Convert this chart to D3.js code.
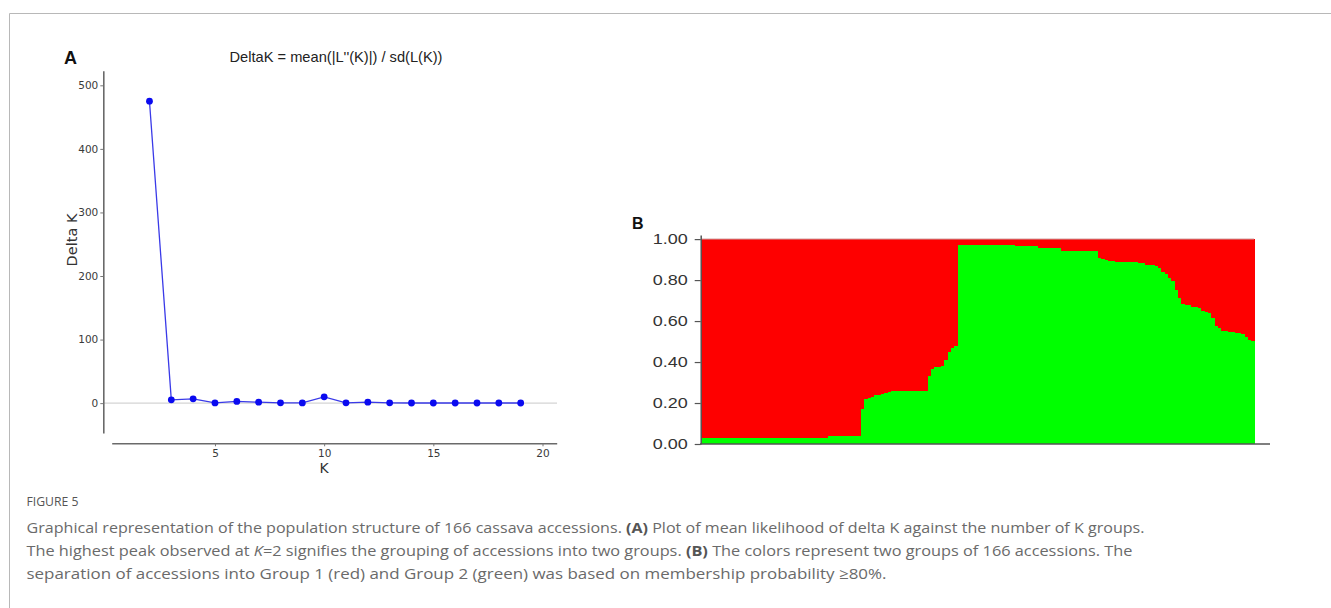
<!DOCTYPE html>
<html>
<head>
<meta charset="utf-8">
<script src="https://cdn.jsdelivr.net/npm/d3@7"></script>
<style>
  html, body { margin: 0; padding: 0; background: #fff; }
  svg { display: block; }
</style>
</head>
<body>
<svg id="fig" width="1331" height="608"></svg>
<script>
// Panel A: Evanno delta K for each number of clusters K
const kValues = [2, 3, 4, 5, 6, 7, 8, 9, 10, 11, 12, 13, 14, 15, 16, 17, 18, 19];
const deltaK  = [475, 5.2, 6.8, 0.3, 2.6, 1.5, 0.4, 0.3, 9.9, 0.5, 1.5, 0.4, 0.2, 0.2, 0.2, 0.2, 0.2, 0.2];
const deltaTicks = [0, 100, 200, 300, 400, 500];
const kTicks = [5, 10, 15, 20];

// Panel B: membership probability of Group 2 (green) for the 166 sorted accessions
const group2Membership = [
  0.030, 0.030, 0.030, 0.030, 0.030, 0.030, 0.030, 0.030, 0.030, 0.030,
  0.030, 0.030, 0.030, 0.030, 0.030, 0.030, 0.030, 0.030, 0.030, 0.030,
  0.030, 0.030, 0.030, 0.030, 0.030, 0.030, 0.030, 0.030, 0.030, 0.030,
  0.030, 0.030, 0.030, 0.030, 0.030, 0.030, 0.030, 0.030,
  0.040, 0.040, 0.040, 0.040, 0.040, 0.040, 0.040, 0.040, 0.040, 0.040,
  0.172,
  0.222, 0.225, 0.228,
  0.238, 0.240, 0.245, 0.250, 0.255,
  0.258, 0.258, 0.258, 0.258, 0.258, 0.258, 0.258, 0.258, 0.258, 0.258, 0.258,
  0.330,
  0.365, 0.375, 0.378, 0.380,
  0.410,
  0.448,
  0.470, 0.478,
  0.972, 0.972, 0.972, 0.972, 0.972, 0.972, 0.972, 0.972, 0.972, 0.972,
  0.972, 0.972, 0.972, 0.972, 0.972, 0.972, 0.972,
  0.964, 0.964, 0.964, 0.964, 0.964, 0.964, 0.964,
  0.956, 0.956, 0.956, 0.956, 0.956, 0.956, 0.956,
  0.944, 0.944, 0.944, 0.944, 0.944, 0.944, 0.944, 0.944, 0.944, 0.944, 0.944,
  0.910, 0.905, 0.900,
  0.892, 0.891, 0.890, 0.890, 0.889, 0.888, 0.888, 0.887, 0.886, 0.885, 0.884,
  0.876, 0.874, 0.872, 0.870,
  0.858,
  0.840, 0.830,
  0.808, 0.795,
  0.752,
  0.712,
  0.684, 0.680, 0.676,
  0.670, 0.668, 0.665,
  0.650, 0.645, 0.640,
  0.614,
  0.578, 0.568,
  0.552, 0.550, 0.548, 0.545,
  0.542, 0.540, 0.535,
  0.520, 0.510, 0.502
];
const membershipTicks = [0, 0.2, 0.4, 0.6, 0.8, 1.0];

const svg = d3.select("#fig");

// figure frame (top and left rules)
svg.append("path")
  .attr("d", "M9.5,700 V13.5 H1400")
  .attr("fill", "none")
  .attr("stroke", "#b8b8b8")
  .attr("stroke-width", 1);

// ---------------- Panel A ----------------
const gA = svg.append("g");
const xA = d3.scaleLinear().domain([0.27, 20.65]).range([111.7, 556.7]);
const yA = d3.scaleLinear().domain([-47, 523]).range([433, 70.7]);

gA.append("text")
  .attr("x", 64).attr("y", 64)
  .attr("font-family", "Liberation Sans, Arial, sans-serif")
  .attr("font-weight", "bold").attr("font-size", 18)
  .attr("fill", "#111").text("A");

gA.append("text")
  .attr("x", 336).attr("y", 62)
  .attr("text-anchor", "middle")
  .attr("font-family", "Liberation Sans, Arial, sans-serif")
  .attr("font-size", 15)
  .attr("textLength", 213).attr("lengthAdjust", "spacingAndGlyphs")
  .attr("fill", "#222")
  .text("DeltaK = mean(|L''(K)|) / sd(L(K))");

// zero reference line
gA.append("line")
  .attr("x1", 103).attr("x2", 557)
  .attr("y1", yA(0)).attr("y2", yA(0))
  .attr("stroke", "#d4d4d4").attr("stroke-width", 1.2);

const yAxisA = gA.append("g")
  .attr("transform", "translate(103.3,0)")
  .call(d3.axisLeft(yA).tickValues(deltaTicks).tickSize(3).tickSizeOuter(0).tickPadding(2));
const xAxisA = gA.append("g")
  .attr("transform", "translate(0,443.3)")
  .call(d3.axisBottom(xA).tickValues(kTicks).tickSize(3).tickSizeOuter(0).tickPadding(3));

[yAxisA, xAxisA].forEach(ax => {
  ax.select(".domain").attr("stroke", "#6a6a6a").attr("stroke-width", 1.6);
  ax.selectAll(".tick line").attr("stroke", "#777").attr("stroke-width", 1);
  ax.selectAll(".tick text")
    .attr("font-family", "DejaVu Sans, sans-serif")
    .attr("font-size", 10.5).attr("fill", "#3a3a3a");
});

gA.append("text")
  .attr("transform", "translate(77,240) rotate(-90)")
  .attr("text-anchor", "middle")
  .attr("font-family", "DejaVu Sans, sans-serif")
  .attr("font-size", 14.5).attr("fill", "#333")
  .text("Delta K");

gA.append("text")
  .attr("x", xA(10)).attr("y", 473)
  .attr("text-anchor", "middle")
  .attr("font-family", "DejaVu Sans, sans-serif")
  .attr("font-size", 14).attr("fill", "#333")
  .text("K");

const deltaData = kValues.map((k, i) => ({ k, v: deltaK[i] }));
gA.append("path")
  .datum(deltaData)
  .attr("fill", "none")
  .attr("stroke", "#3a3ae8").attr("stroke-width", 1.3)
  .attr("d", d3.line().x(d => xA(d.k)).y(d => yA(d.v)));
gA.selectAll("circle.pt")
  .data(deltaData)
  .join("circle")
  .attr("class", "pt")
  .attr("cx", d => xA(d.k)).attr("cy", d => yA(d.v))
  .attr("r", 3.4)
  .attr("fill", "#0a0af0");

// ---------------- Panel B ----------------
const gB = svg.append("g");
const xB = d3.scaleBand().domain(d3.range(group2Membership.length)).range([701, 1254]).padding(0);
const yB = d3.scaleLinear().domain([0, 1.02]).range([444, 235]);

gB.append("text")
  .attr("x", 632).attr("y", 228.5)
  .attr("font-family", "Liberation Sans, Arial, sans-serif")
  .attr("font-weight", "bold").attr("font-size", 16)
  .attr("fill", "#111").text("B");

const stacked = group2Membership.map((g, i) => ({ i, green: g, red: 1 - g }));

gB.append("g").attr("shape-rendering", "crispEdges")
  .selectAll("rect.red")
  .data(stacked)
  .join("rect")
  .attr("class", "red")
  .attr("x", d => xB(d.i))
  .attr("width", xB.bandwidth() + 0.5)
  .attr("y", d => yB(1))
  .attr("height", d => yB(d.green) - yB(1))
  .attr("fill", "#fe0000");

gB.append("g").attr("shape-rendering", "crispEdges")
  .selectAll("rect.green")
  .data(stacked)
  .join("rect")
  .attr("class", "green")
  .attr("x", d => xB(d.i))
  .attr("width", xB.bandwidth() + 0.5)
  .attr("y", d => yB(d.green))
  .attr("height", d => yB(0) - yB(d.green))
  .attr("fill", "#00ff00");

// thin rule along the top of the plot
gB.append("line")
  .attr("x1", 701).attr("x2", 1254)
  .attr("y1", yB(1)).attr("y2", yB(1))
  .attr("stroke", "#c98a8a").attr("stroke-width", 1);

const yAxisB = gB.append("g")
  .attr("transform", "translate(700.7,0)")
  .call(d3.axisLeft(yB).tickValues(membershipTicks).tickFormat(d3.format(".2f"))
    .tickSize(6).tickSizeOuter(0).tickPadding(7));
yAxisB.select(".domain").attr("stroke", "#555").attr("stroke-width", 1.5);
yAxisB.selectAll(".tick line").attr("stroke", "#555").attr("stroke-width", 1.2);
yAxisB.selectAll(".tick text")
  .attr("font-family", "Liberation Sans Narrow, Liberation Sans, Arial, sans-serif")
  .attr("font-size", 14).attr("fill", "#333")
  .attr("textLength", 35).attr("lengthAdjust", "spacingAndGlyphs");

gB.append("line")
  .attr("x1", 700).attr("x2", 1270)
  .attr("y1", yB(0)).attr("y2", yB(0))
  .attr("stroke", "#555").attr("stroke-width", 1.6);

// ---------------- Caption ----------------
const cap = svg.append("g")
  .attr("font-family", "Open Sans, Lato, sans-serif")
  .attr("fill", "#6a6a6a");

cap.append("text")
  .attr("x", 26.5).attr("y", 506)
  .attr("font-size", 13).attr("textLength", 52).attr("lengthAdjust", "spacingAndGlyphs")
  .attr("fill", "#555")
  .text("FIGURE 5");

const captionLines = [
  { w: 1118, parts: [
    ["Graphical representation of the population structure of 166 cassava accessions. ", ""],
    ["(A)", "b"],
    [" Plot of mean likelihood of delta K against the number of K groups.", ""] ] },
  { w: 1106, parts: [
    ["The highest peak observed at ", ""],
    ["K", "i"],
    ["=2 signifies the grouping of accessions into two groups. ", ""],
    ["(B)", "b"],
    [" The colors represent two groups of 166 accessions. The", ""] ] },
  { w: 860, parts: [
    ["separation of accessions into Group 1 (red) and Group 2 (green) was based on membership probability \u226580%.", ""] ] }
];

captionLines.forEach((line, li) => {
  const t = cap.append("text")
    .attr("x", 26.5).attr("y", 533 + li * 23)
    .attr("font-size", 15)
    .attr("textLength", line.w).attr("lengthAdjust", "spacingAndGlyphs");
  line.parts.forEach(([s, style]) => {
    const ts = t.append("tspan").text(s);
    if (style === "b") ts.attr("font-weight", "bold").attr("fill", "#555");
    if (style === "i") ts.attr("font-style", "italic");
  });
});
</script>
</body>
</html>
